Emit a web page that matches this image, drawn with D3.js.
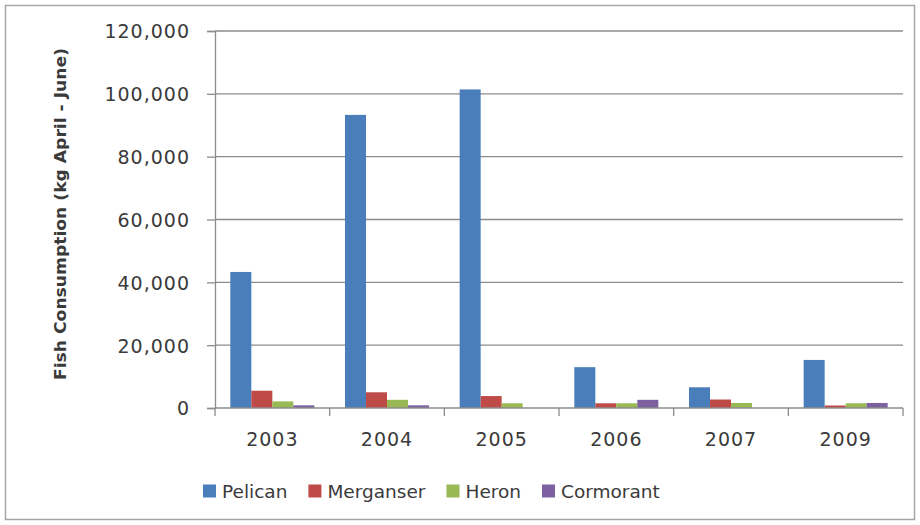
<!DOCTYPE html>
<html>
<head>
<meta charset="utf-8">
<script src="https://cdn.jsdelivr.net/npm/d3@7/dist/d3.min.js"></script>
<style>
  html, body { margin: 0; padding: 0; background: #fff; }
  svg { display: block; }
  text { font-family: "DejaVu Sans", sans-serif; fill: #3a3a3a; }
</style>
</head>
<body>
<svg id="chart" width="920" height="525"></svg>
<script>
// Fish consumption by bird species, April - June (kg)
const years = ["2003", "2004", "2005", "2006", "2007", "2009"];
const species = ["Pelican", "Merganser", "Heron", "Cormorant"];
const pelican   = [43300, 93300, 101400, 13000, 6600, 15300];
const merganser = [5500, 5000, 3800, 1500, 2700, 800];
const heron     = [2100, 2600, 1500, 1500, 1600, 1500];
const cormorant = [850, 850, 0, 2600, 0, 1600];
const yTicks = [0, 20000, 40000, 60000, 80000, 100000, 120000];
const colors = ["#4a7ebb", "#be4b48", "#98b954", "#7d60a0"];

const seriesValues = [pelican, merganser, heron, cormorant];
const rows = years.map((yr, i) => ({
  year: yr,
  values: species.map((s, k) => ({ key: s, value: seriesValues[k][i] }))
}));

const svg = d3.select("#chart");
const W = 920, H = 525;
const m = { left: 215, right: 17, top: 31, bottom: 117 };

// outer frame
svg.append("rect")
  .attr("x", 5.5).attr("y", 5.5)
  .attr("width", W - 11).attr("height", H - 11)
  .attr("fill", "#fff").attr("stroke", "#a6a6a6").attr("stroke-width", 1.5);

const x0 = d3.scaleBand().domain(years).range([m.left, W - m.right]).paddingInner(0).paddingOuter(0);
const x1 = d3.scaleBand().domain(species).range([0, x0.bandwidth()]).paddingInner(0).paddingOuter(0.73);
const y = d3.scaleLinear().domain([0, 120000]).range([H - m.bottom, m.top]);

// gridlines
svg.append("g")
  .selectAll("line")
  .data(yTicks.filter(t => t > 0))
  .join("line")
  .attr("x1", m.left).attr("x2", W - m.right)
  .attr("y1", d => y(d)).attr("y2", d => y(d))
  .attr("stroke", "#8c8c8c").attr("stroke-width", 1.3);

// bars
svg.append("g")
  .selectAll("g")
  .data(rows)
  .join("g")
  .attr("transform", d => `translate(${x0(d.year)},0)`)
  .selectAll("rect")
  .data(d => d.values)
  .join("rect")
  .attr("x", d => x1(d.key))
  .attr("width", x1.bandwidth())
  .attr("y", d => y(d.value))
  .attr("height", d => y(0) - y(d.value))
  .attr("fill", (d, i) => colors[i]);

// y axis
const yAxis = svg.append("g")
  .attr("transform", `translate(${m.left},0)`)
  .call(d3.axisLeft(y).tickValues(yTicks).tickFormat(d3.format(",")).tickSize(8).tickPadding(17));
yAxis.select(".domain").attr("stroke", "#8c8c8c").attr("stroke-width", 1.3);
yAxis.selectAll(".tick line").attr("stroke", "#8c8c8c").attr("stroke-width", 1.3);
yAxis.selectAll(".tick text")
  .style("font-family", "DejaVu Sans").style("font-size", "19px")
  .style("letter-spacing", "1px").attr("fill", "#333").attr("dy", "0.36em");

// x axis: ticks at category boundaries, labels at category centres
const xg = svg.append("g").attr("transform", `translate(0,${y(0)})`);
xg.append("line")
  .attr("x1", m.left).attr("x2", W - m.right)
  .attr("stroke", "#8c8c8c").attr("stroke-width", 1.3);
const bounds = years.map(yr => x0(yr)).concat([x0(years[years.length - 1]) + x0.bandwidth()]);
xg.selectAll("line.b")
  .data(bounds)
  .join("line").attr("class", "b")
  .attr("x1", d => d).attr("x2", d => d)
  .attr("y1", 0).attr("y2", 8)
  .attr("stroke", "#8c8c8c").attr("stroke-width", 1.3);
xg.selectAll("text")
  .data(years)
  .join("text")
  .attr("x", d => x0(d) + x0.bandwidth() / 2)
  .attr("y", 38)
  .attr("text-anchor", "middle")
  .attr("fill", "#333")
  .style("font-size", "19px").style("letter-spacing", "1px")
  .text(d => d);

// y axis title
svg.append("text")
  .attr("transform", "translate(66,214) rotate(-90)")
  .attr("text-anchor", "middle")
  .attr("textLength", 332).attr("lengthAdjust", "spacingAndGlyphs")
  .style("font-size", "16px").style("font-weight", "bold")
  .attr("fill", "#1f1f1f")
  .text("Fish Consumption (kg April - June)");

// legend
const lg = svg.append("g").attr("transform", "translate(203,491)");
let lx = 0;
species.forEach((s, i) => {
  const item = lg.append("g").attr("transform", `translate(${lx},0)`);
  item.append("rect").attr("x", 0).attr("y", -6.5).attr("width", 13).attr("height", 13).attr("fill", colors[i]);
  const t = item.append("text").attr("x", 19).attr("y", 0).attr("dy", "0.36em")
    .attr("fill", "#333")
    .style("font-size", "18.5px").text(s);
  lx += 19 + t.node().getComputedTextLength() + 21;
});
</script>
</body>
</html>
